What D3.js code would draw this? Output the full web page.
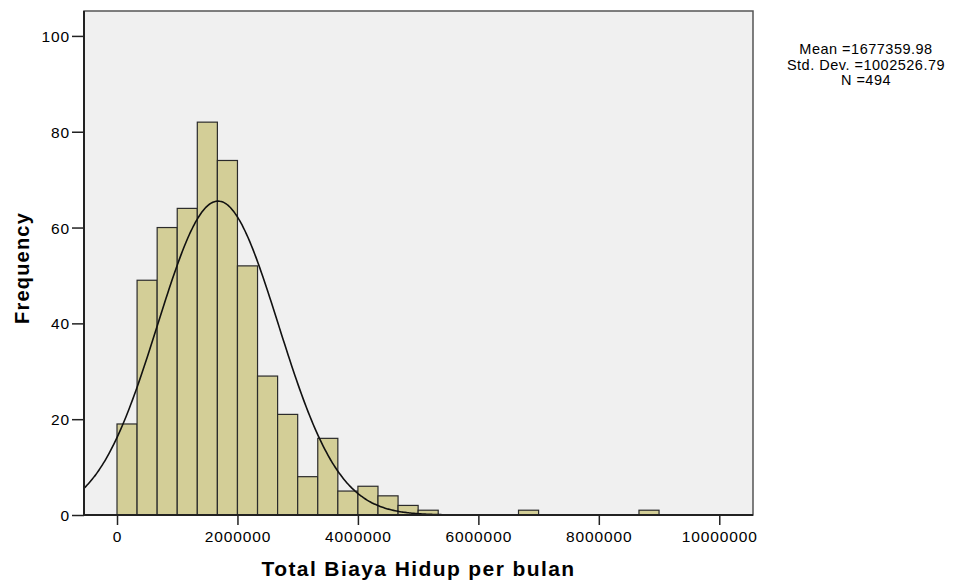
<!DOCTYPE html>
<html lang="en">
<head>
<meta charset="UTF-8">
<script src="https://d3js.org/d3.v7.min.js"></script>
<style>
  body { margin: 0; background: #fff; }
  text { font-family: "Liberation Sans", Arial, sans-serif; fill: #000; }
</style>
</head>
<body>
<div id="chart"></div>
<script>
// histogram bins: start of each bin (width 333333.33) and counts
const binWidth = 2000000 / 6;
const binStarts = d3.range(0, 27).map(i => i * binWidth);
const counts = [19, 49, 60, 64, 82, 74, 52, 29, 21, 8, 16, 5, 6, 4, 2, 1,
                0, 0, 0, 0, 1, 0, 0, 0, 0, 0, 1];
const xTicks = [0, 2000000, 4000000, 6000000, 8000000, 10000000];
const yTicks = [0, 20, 40, 60, 80, 100];
const statLabels = ["Mean =1677359.98", "Std. Dev. =1002526.79", "N =494"];
const mean = 1677359.98, sd = 1002526.79, n = 494;

const width = 967, height = 583;
const plot = { left: 84, right: 753, top: 11, bottom: 515 };

const svg = d3.select("#chart").append("svg")
    .attr("width", width)
    .attr("height", height);

const x = d3.scaleLinear()
    .domain([-548000, 10560000])
    .range([plot.left, plot.right]);
const y = d3.scaleLinear()
    .domain([0, 105.2])
    .range([plot.bottom, plot.top]);

// plot background
svg.append("rect")
    .attr("x", plot.left).attr("y", plot.top)
    .attr("width", plot.right - plot.left)
    .attr("height", plot.bottom - plot.top)
    .attr("fill", "#f0f0f0")
    .attr("stroke", "#555")
    .attr("stroke-width", 1.5);

// bars
const bins = binStarts.map((s, i) => ({ x0: s, x1: s + binWidth, c: counts[i] }))
    .filter(d => d.c > 0);
svg.append("g").selectAll("rect")
    .data(bins)
    .enter().append("rect")
    .attr("x", d => x(d.x0))
    .attr("y", d => y(d.c))
    .attr("width", d => x(d.x1) - x(d.x0))
    .attr("height", d => y(0) - y(d.c))
    .attr("fill", "#d3ce97")
    .attr("stroke", "#2b2b2b")
    .attr("stroke-width", 1.2);

// normal curve from mean, sd and N
const dom = x.domain();
const curvePts = d3.range(0, 401).map(i => {
    const v = dom[0] + (dom[1] - dom[0]) * i / 400;
    const z = (v - mean) / sd;
    return [v, n * binWidth / (sd * Math.sqrt(2 * Math.PI)) * Math.exp(-0.5 * z * z)];
});
svg.append("path")
    .datum(curvePts)
    .attr("fill", "none")
    .attr("stroke", "#111")
    .attr("stroke-width", 1.6)
    .attr("d", d3.line().x(d => x(d[0])).y(d => y(d[1])).curve(d3.curveBasis));

// axes
const xAxis = svg.append("g")
    .attr("transform", `translate(0,${plot.bottom})`)
    .call(d3.axisBottom(x).tickValues(xTicks).tickSize(10).tickPadding(6).tickFormat(d3.format("d")));
const yAxis = svg.append("g")
    .attr("transform", `translate(${plot.left},0)`)
    .call(d3.axisLeft(y).tickValues(yTicks).tickSize(12).tickPadding(2).tickFormat(d3.format("d")));

[xAxis, yAxis].forEach(a => {
    a.select(".domain").remove();
    a.selectAll("line").attr("stroke", "#222").attr("stroke-width", 1.5);
    a.selectAll("text")
        .style("font-size", "15.5px")
        .style("letter-spacing", "0.9px")
        .attr("fill", "#222");
});
yAxis.selectAll("text").attr("dy", "0.36em");

// axis lines (left and bottom darker)
svg.append("line")
    .attr("x1", plot.left).attr("x2", plot.left)
    .attr("y1", plot.top).attr("y2", plot.bottom)
    .attr("stroke", "#222").attr("stroke-width", 2);
svg.append("line")
    .attr("x1", plot.left).attr("x2", plot.right)
    .attr("y1", plot.bottom).attr("y2", plot.bottom)
    .attr("stroke", "#222").attr("stroke-width", 2);

// titles
svg.append("text")
    .attr("x", (plot.left + plot.right) / 2)
    .attr("y", 576)
    .attr("text-anchor", "middle")
    .style("font-size", "21px")
    .style("font-weight", "bold")
    .style("letter-spacing", "1.4px")
    .text("Total Biaya Hidup per bulan");

svg.append("text")
    .attr("transform", `translate(29,${(plot.top + plot.bottom) / 2 + 5}) rotate(-90)`)
    .attr("text-anchor", "middle")
    .style("font-size", "20px")
    .style("font-weight", "bold")
    .style("letter-spacing", "1.2px")
    .text("Frequency");

// stats
svg.append("g").selectAll("text")
    .data(statLabels)
    .enter().append("text")
    .attr("x", 866)
    .attr("y", (d, i) => 54 + i * 15.5)
    .attr("text-anchor", "middle")
    .style("font-size", "14.5px")
    .style("letter-spacing", "0.5px")
    .text(d => d);
</script>
</body>
</html>
